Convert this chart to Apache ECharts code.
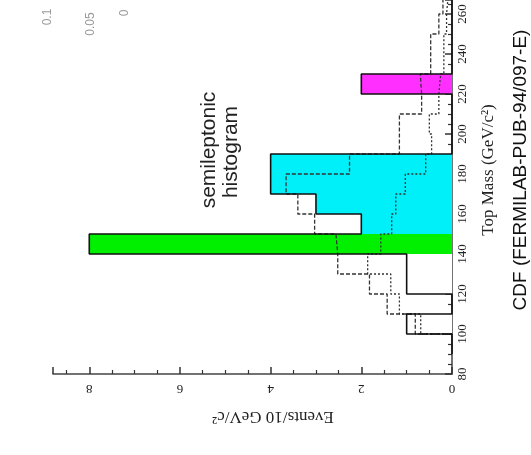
<!DOCTYPE html>
<html><head><meta charset="utf-8">
<script src="https://cdn.jsdelivr.net/npm/echarts@6/dist/echarts.min.js"></script>
<style>html,body{margin:0;padding:0;background:#fff}#c{width:531px;height:455px}</style>
</head><body><div id="c"></div>
<script>
// Lower edges of the 10 GeV/c^2 mass bins
const binStarts = [90,100,110,120,130,140,150,160,170,180,190,200,210,220,230,240,250,260];
// Data histogram (solid, partly colour-filled)
const dataCounts = [0,1,0,1,1,8,2,3,4,4,0,0,0,2,0,0,0,0];
// Dashed histogram (background + top MC)
const sigBkg = [0,0.81,1.43,1.82,2.52,2.56,3.03,3.40,3.66,2.26,1.16,1.16,0.67,0.70,0.47,0.47,0.29,0.20];
// Dotted histogram (background)
const bkg = [0,0.69,1.16,1.35,1.86,1.57,1.33,1.24,1.03,0.58,0.45,0.50,0.29,0.25,0.18,0.18,0.12,0.08];
// Tick labels
const massTickLabels = ['80','100','120','140','160','180','200','220','240','260'];
const eventTickLabels = ['0','2','4','6','8'];
const insetLabels = ['0.1','0.05','0'];

const BIN = 10;
function fillFor(m){
  if (m === 140) return '#00f000';
  if (m >= 150 && m < 190) return '#00f0fa';
  if (m === 220) return '#ff30ff';
  return '#ffffff';
}
function stepPoints(vals, startIdx){
  const pts = [[0, binStarts[startIdx]]];
  for (let i = startIdx; i < vals.length; i++){
    pts.push([vals[i], binStarts[i]], [vals[i], binStarts[i] + BIN]);
  }
  pts.push([0, binStarts[vals.length-1] + BIN]);
  return pts;
}

const chart = echarts.init(document.getElementById('c'), null, {renderer:'canvas'});
const serif = '"Liberation Serif", "Times New Roman", serif';
const sans = '"Liberation Sans", Arial, sans-serif';

const option = {
  animation: false,
  backgroundColor: '#ffffff',
  grid: {left: 53, right: 79, top: 0, bottom: 81, containLabel: false},
  xAxis: {
    type: 'value', min: 0, max: 8.8, interval: 2, inverse: true, position: 'bottom',
    axisLine: {show: true, onZero: false, lineStyle: {color: '#444', width: 1.5}},
    axisTick: {show: true, inside: true, length: 7, lineStyle: {color: '#333', width: 1.5}},
    minorTick: {show: true, splitNumber: 4, length: 4, lineStyle: {color: '#333', width: 1.2}},
    splitLine: {show: false},
    axisLabel: {
      rotate: 180, margin: 8, showMaxLabel: false, fontFamily: serif, fontSize: 13, color: '#222',
      formatter: v => { const i = eventTickLabels.indexOf(String(v)); return i >= 0 ? eventTickLabels[i] : ''; }
    }
  },
  yAxis: {
    type: 'value', min: 80, max: 267, interval: 20, position: 'right',
    axisLine: {show: true, onZero: false, lineStyle: {color: '#444', width: 1.5}},
    axisTick: {show: true, inside: true, length: 7, lineStyle: {color: '#333', width: 1.5}},
    minorTick: {show: true, splitNumber: 4, length: 4, lineStyle: {color: '#333', width: 1.2}},
    splitLine: {show: false},
    axisLabel: {
      rotate: 90, margin: 4, showMaxLabel: false, fontFamily: serif, fontSize: 13, color: '#222',
      formatter: v => { const i = massTickLabels.indexOf(String(v)); return i >= 0 ? massTickLabels[i] : ''; }
    }
  },
  series: [
    {
      type: 'custom', name: 'fills', z: 1,
      encode: {x: 1, y: 0},
      data: binStarts.map((m, i) => [m, dataCounts[i]]),
      renderItem: function(params, api){
        const m = api.value(0), c = api.value(1);
        if (!c) return null;
        const p0 = api.coord([0, m]);
        const p1 = api.coord([c, m + BIN]);
        return {
          type: 'rect',
          shape: {x: Math.min(p0[0], p1[0]), y: Math.min(p0[1], p1[1]),
                  width: Math.abs(p1[0]-p0[0]), height: Math.abs(p1[1]-p0[1])},
          style: {fill: fillFor(m), stroke: null}
        };
      }
    },
    {
      type: 'line', name: 'dashed', z: 3, symbol: 'none', silent: true,
      data: stepPoints(sigBkg, 1),
      lineStyle: {color: '#333', width: 1.3, type: [4, 2]}
    },
    {
      type: 'line', name: 'dotted', z: 3, symbol: 'none', silent: true,
      data: stepPoints(bkg, 1),
      lineStyle: {color: '#333', width: 1.3, type: [2, 2]}
    },
    {
      type: 'line', name: 'data', z: 4, symbol: 'none', silent: true,
      data: stepPoints(dataCounts, 0),
      lineStyle: {color: '#111', width: 1.6}
    }
  ],
  graphic: [
    {type:'text', x: 209, y: 150, rotation: Math.PI/2, z: 10,
     style:{text:'semileptonic', font:'21px ' + sans, fill:'#222', textAlign:'center', textVerticalAlign:'middle'}},
    {type:'text', x: 231, y: 152, rotation: Math.PI/2, z: 10,
     style:{text:'histogram', font:'21px ' + sans, fill:'#222', textAlign:'center', textVerticalAlign:'middle'}},
    {type:'text', x: 489, y: 170, rotation: Math.PI/2, z: 10,
     style:{text:'Top Mass (GeV/c²)', font:'17px ' + serif, fill:'#222', textAlign:'center', textVerticalAlign:'middle'}},
    {type:'text', x: 521, y: 170, rotation: Math.PI/2, z: 10,
     style:{text:'CDF (FERMILAB-PUB-94/097-E)', font:'19px ' + sans, fill:'#111', textAlign:'center', textVerticalAlign:'middle'}},
    {type:'text', x: 273, y: 416, rotation: Math.PI, z: 10,
     style:{text:'Events/10 GeV/c²', font:'17px ' + serif, fill:'#222', textAlign:'center', textVerticalAlign:'middle'}},
    {type:'text', x: 48, y: 17, rotation: Math.PI/2, z: 10,
     style:{text: insetLabels[0], font:'12px ' + sans, fill:'#999', textAlign:'center', textVerticalAlign:'middle'}},
    {type:'text', x: 91, y: 24, rotation: Math.PI/2, z: 10,
     style:{text: insetLabels[1], font:'12px ' + sans, fill:'#999', textAlign:'center', textVerticalAlign:'middle'}},
    {type:'text', x: 125, y: 13, rotation: Math.PI/2, z: 10,
     style:{text: insetLabels[2], font:'12px ' + sans, fill:'#999', textAlign:'center', textVerticalAlign:'middle'}}
  ]
};
chart.setOption(option);
</script>
</body></html>
